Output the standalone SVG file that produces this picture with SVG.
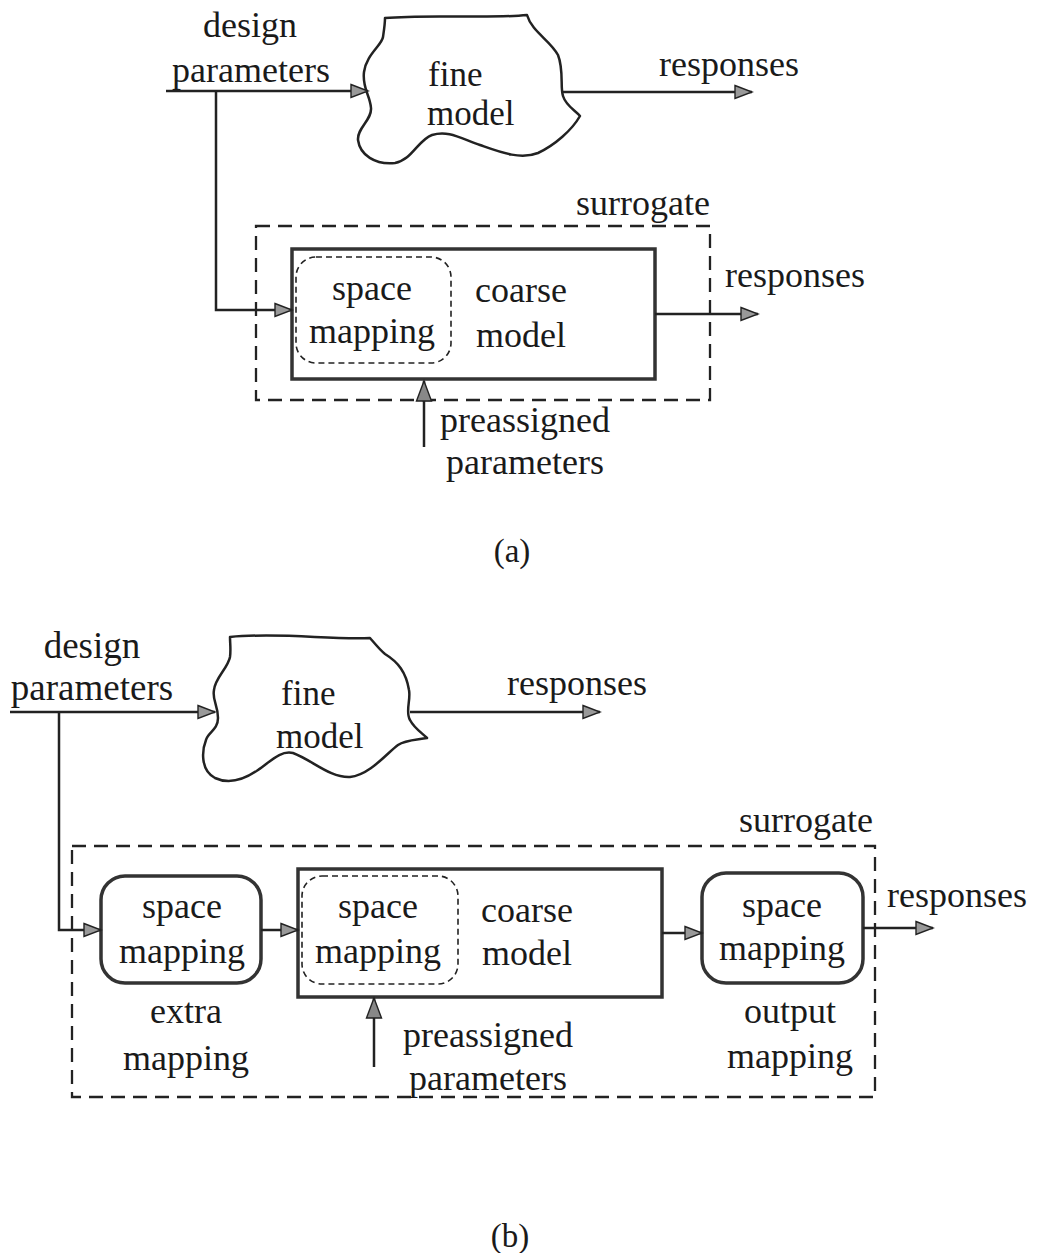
<svg xmlns="http://www.w3.org/2000/svg" width="1039" height="1253" viewBox="0 0 1039 1253">
<defs>
<style>
text{font-family:"Liberation Serif","Times New Roman",serif;font-size:36px;fill:#1a1a1a;text-anchor:middle}
text.st{text-anchor:start;font-size:35px}
.ln{fill:none;stroke:#222;stroke-width:2.5}
.cloud{fill:#fff;stroke:#222;stroke-width:2.5;stroke-linejoin:round}
.box{fill:#fff;stroke:#333;stroke-width:3.5}
.rbox{fill:#fff;stroke:#333;stroke-width:3.5}
.dash{fill:none;stroke:#222;stroke-width:2.3;stroke-dasharray:14 8}
.idash{fill:none;stroke:#222;stroke-width:1.6;stroke-dasharray:6 4}
</style>
<marker id="ah" markerUnits="userSpaceOnUse" markerWidth="20" markerHeight="16" refX="18" refY="8" orient="auto">
<path d="M1,1.5 L18,8 L1,14.5 Z" fill="#999" stroke="#222" stroke-width="1.4" stroke-linejoin="miter"/>
</marker>
<marker id="ahb" markerUnits="userSpaceOnUse" markerWidth="24" markerHeight="18" refX="21" refY="9" orient="auto">
<path d="M1,1.5 L21,9 L1,16.5 Z" fill="#888" stroke="#222" stroke-width="1.4" stroke-linejoin="miter"/>
</marker>
</defs>

<!-- (a) -->
<g id="a-design-label"><text x="250" y="37">design</text><text x="251" y="82">parameters</text></g>
<g id="a-fine-model">
<path class="cloud" d="M385,18 C430,14 490,19 527,15 C532,32 550,40 558,55 C564,70 560,88 563,96 C566,106 575,110 580,116 C572,130 555,145 538,153 C520,160 500,152 480,145 C460,138 448,130 432,135 C418,140 412,160 395,163 C375,165 360,155 358,140 C357,128 372,120 371,108 C370,95 362,88 364,72 C366,55 382,45 383,37 C384,30 385,24 385,18 Z"/>
<text class="st" x="428" y="86">fine</text><text class="st" x="427" y="125">model</text>
</g>
<g id="a-responses-top"><text x="729" y="76">responses</text></g>
<g id="a-surrogate">
<rect class="dash" x="256" y="226" width="454" height="174"/>
<text x="643" y="215">surrogate</text>
</g>
<g id="a-coarse-model">
<rect class="box" x="292" y="249" width="363" height="130"/>
<rect class="idash" x="296" y="257" width="155" height="106" rx="20"/>
<text x="372" y="300">space</text><text x="372" y="343">mapping</text>
<text x="521" y="302">coarse</text><text x="521" y="347">model</text>
</g>
<g id="a-responses-bottom"><text x="795" y="287">responses</text></g>
<g id="a-preassigned"><text x="525" y="432">preassigned</text><text x="525" y="474">parameters</text></g>
<g id="a-caption"><text x="512" y="562" style="font-size:33px">(a)</text></g>

<!-- (b) -->
<g id="b-design-label"><text x="92" y="658" style="font-size:37px">design</text><text x="92" y="700" style="font-size:37px">parameters</text></g>
<g id="b-fine-model">
<path class="cloud" d="M230,637 C280,632 330,640 370,638 C376,645 380,650 385,654 C398,662 406,672 409,690 C411,700 405,712 410,720 C414,728 422,733 427,738 C415,740 405,740 398,745 C388,752 370,775 350,777 C330,778 312,760 293,753 C280,750 270,762 258,770 C248,777 232,786 215,778 C200,770 202,750 206,740 C208,732 218,730 218,718 C218,705 212,700 214,690 C215,678 228,668 230,657 C231,650 230,643 230,637 Z"/>
<text class="st" x="281" y="705">fine</text><text class="st" x="276" y="748">model</text>
</g>
<g id="b-responses-top"><text x="577" y="695">responses</text></g>
<g id="b-surrogate">
<rect class="dash" x="72" y="846" width="803" height="251"/>
<text x="806" y="832">surrogate</text>
</g>
<g id="b-extra-mapping">
<rect class="rbox" x="101" y="876" width="160" height="107" rx="24"/>
<text x="182" y="918">space</text><text x="182" y="963">mapping</text>
<text x="186" y="1023">extra</text><text x="186" y="1070">mapping</text>
</g>
<g id="b-coarse-model">
<rect class="box" x="298" y="869" width="364" height="128"/>
<rect class="idash" x="302" y="876" width="156" height="108" rx="20"/>
<text x="378" y="918">space</text><text x="378" y="963">mapping</text>
<text x="527" y="922">coarse</text><text x="527" y="965">model</text>
</g>
<g id="b-preassigned"><text x="488" y="1047">preassigned</text><text x="488" y="1090">parameters</text></g>
<g id="b-output-mapping">
<rect class="rbox" x="702" y="873" width="161" height="110" rx="24"/>
<text x="782" y="917">space</text><text x="782" y="960">mapping</text>
<text x="790" y="1023">output</text><text x="790" y="1068">mapping</text>
</g>
<g id="b-responses-bottom"><text x="957" y="907">responses</text></g>
<g id="b-caption"><text x="510" y="1247" style="font-size:33px">(b)</text></g>

<g id="connectors">
<path class="ln" d="M166,91 H368" marker-end="url(#ah)"/>
<path class="ln" d="M216,91 V310 H292" marker-end="url(#ah)"/>
<path class="ln" d="M563,92 H752" marker-end="url(#ah)"/>
<path class="ln" d="M655,314 H758" marker-end="url(#ah)"/>
<path class="ln" d="M424,447 V381" marker-end="url(#ahb)"/>
<path class="ln" d="M10,712 H215" marker-end="url(#ah)"/>
<path class="ln" d="M59,712 V930 H101" marker-end="url(#ah)"/>
<path class="ln" d="M410,712 H600" marker-end="url(#ah)"/>
<path class="ln" d="M261,930 H298" marker-end="url(#ah)"/>
<path class="ln" d="M662,933 H702" marker-end="url(#ah)"/>
<path class="ln" d="M863,928 H933" marker-end="url(#ah)"/>
<path class="ln" d="M374,1067 V998" marker-end="url(#ahb)"/>
</g>
</svg>
